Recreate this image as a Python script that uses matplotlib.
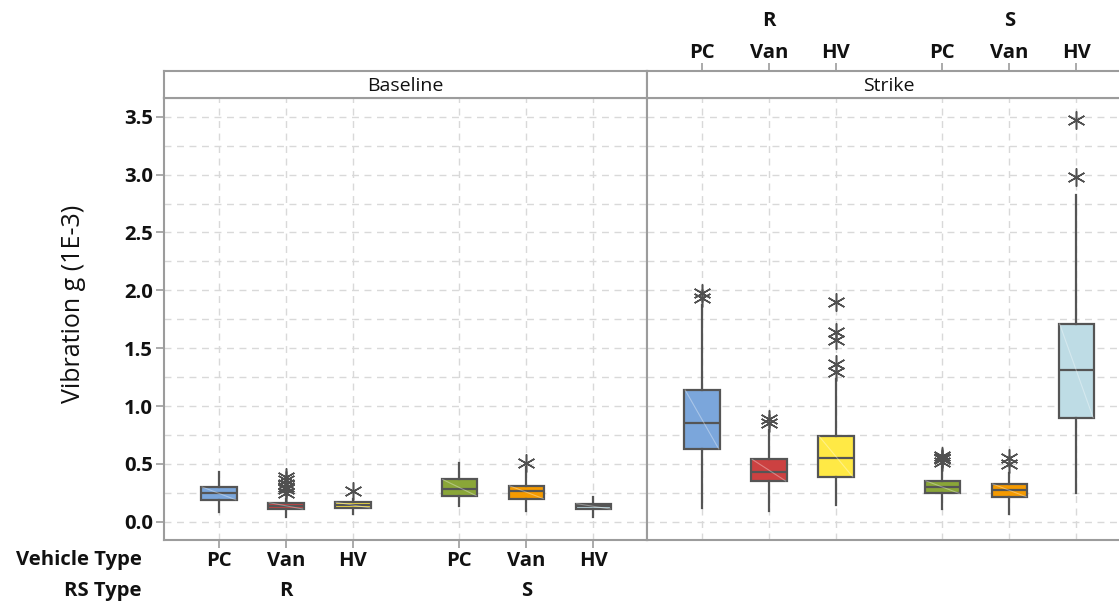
import matplotlib
matplotlib.use("Agg")
import matplotlib.pyplot as plt
from matplotlib.lines import Line2D
import matplotlib.transforms as mtransforms

plt.rcParams['font.family'] = ['Open Sans', 'DejaVu Sans']

# ---------------- data ----------------
vehicle_types = ["PC", "Van", "HV", "PC", "Van", "HV"]
rs_types = ["R", "S"]
panels = ["Baseline", "Strike"]
colors = ["#7BA6DB", "#CC4141", "#FFE945", "#8AA638", "#F59A00", "#BEDCE5"]

# Baseline: (whislo, q1, med, q3, whishi)
base_whislo = [0.08, 0.04, 0.07, 0.14, 0.09, 0.04]
base_q1 = [0.19, 0.11, 0.12, 0.225, 0.20, 0.11]
base_med = [0.25, 0.14, 0.145, 0.28, 0.265, 0.133]
base_q3 = [0.30, 0.165, 0.168, 0.365, 0.31, 0.156]
base_whishi = [0.43, 0.20, 0.20, 0.51, 0.475, 0.215]
base_fliers = [[], [0.25, 0.28, 0.30, 0.33, 0.36, 0.39], [0.265], [], [0.51], []]

# Strike
strike_whislo = [0.12, 0.095, 0.147, 0.11, 0.067, 0.25]
strike_q1 = [0.63, 0.352, 0.389, 0.245, 0.216, 0.899]
strike_med = [0.855, 0.432, 0.553, 0.297, 0.271, 1.311]
strike_q3 = [1.138, 0.539, 0.738, 0.354, 0.326, 1.709]
strike_whishi = [1.873, 0.793, 1.23, 0.475, 0.418, 2.82]
strike_fliers = [[1.93, 1.975], [0.85, 0.89], [1.29, 1.36, 1.57, 1.64, 1.895],
                 [0.52, 0.54, 0.555, 0.57], [0.50, 0.55], [2.98, 3.475]]

yticks = [0.0, 0.5, 1.0, 1.5, 2.0, 2.5, 3.0, 3.5]
ylabel = "Vibration g (1E-3)"

# ---------------- layout ----------------
W, H = 1119, 603
fig = plt.figure(figsize=(W / 100, H / 100), dpi=100)

positions = [0, 1, 2, 3.59, 4.59, 5.59]
xlim = (-0.82, 6.39)
ylim = (-0.158, 3.662)

frame_col = "#9C9C9C"
edge_col = "#555555"
grid_col = "#D9D9D9"
txt_col = "#111111"
tick_fs = 14.6
fw = 'bold'


def px_rect(x0, y_top, x1, y_bot):
    return [x0 / W, 1 - y_bot / H, (x1 - x0) / W, (y_bot - y_top) / H]


def draw_panel(ax, whislo, q1, med, q3, whishi, fliers):
    stats = []
    for i in range(len(med)):
        stats.append(dict(whislo=whislo[i], q1=q1[i], med=med[i], q3=q3[i],
                          whishi=whishi[i], fliers=fliers[i]))
    bp = ax.bxp(stats, positions=positions, widths=0.53, patch_artist=True,
                showcaps=False,
                boxprops=dict(edgecolor=edge_col, linewidth=1.6),
                medianprops=dict(color=edge_col, linewidth=1.6),
                whiskerprops=dict(color=edge_col, linewidth=1.6),
                flierprops=dict(marker=(6, 2, 0), markersize=13,
                                markeredgecolor="#505050", markeredgewidth=1.1,
                                linestyle='none'),
                zorder=3)
    for patch, c in zip(bp['boxes'], colors):
        patch.set_facecolor(c)
    # faint diagonal highlight inside boxes
    for p, lo, hi in zip(positions, q1, q3):
        ax.add_line(Line2D([p - 0.25, p + 0.25], [hi, lo], color="white",
                           alpha=0.35, linewidth=0.8, zorder=4))
    ax.set_xlim(*xlim)
    ax.set_ylim(*ylim)
    ax.set_yticks([v * 0.25 for v in range(15)], minor=True)
    ax.grid(True, which='both', axis='y', color=grid_col, linestyle=(0, (5, 4)), linewidth=1.0, zorder=0)
    ax.grid(True, which='major', axis='x', color=grid_col, linestyle=(0, (5, 4)), linewidth=1.0, zorder=0)
    ax.set_axisbelow(True)
    for s in ax.spines.values():
        s.set_color(frame_col)
        s.set_linewidth(1.5)
    ax.tick_params(which='minor', length=0)


# Baseline panel
ax1 = fig.add_axes(px_rect(164, 98, 647, 540))
draw_panel(ax1, base_whislo, base_q1, base_med, base_q3, base_whishi, base_fliers)
ax1.set_yticks(yticks)
ax1.set_yticklabels([f"{v:.1f}" for v in yticks], fontsize=tick_fs, fontweight=fw, color=txt_col)
ax1.tick_params(axis='y', which='major', length=6, width=1.2, color=frame_col, pad=2)
ax1.set_xticks(positions)
ax1.set_xticklabels(vehicle_types, fontsize=tick_fs, fontweight=fw, color=txt_col)
ax1.tick_params(axis='x', which='major', length=6, width=1.2, color=frame_col, pad=2)
ax1.set_ylabel(ylabel, fontsize=18, color=txt_col)
ax1.yaxis.set_label_coords(-0.162, 0.535)

# Strike panel (extends past the right edge like the reference)
ax2 = fig.add_axes(px_rect(647, 98, 1130, 540))
draw_panel(ax2, strike_whislo, strike_q1, strike_med, strike_q3, strike_whishi, strike_fliers)
ax2.set_yticks(yticks)
ax2.tick_params(axis='y', which='major', length=0, labelleft=False)
ax2.set_xticks(positions)
ax2.tick_params(axis='x', which='major', length=0, labelbottom=False)

# Strips
for x0, x1, name in [(164, 647, panels[0]), (647, 1130, panels[1])]:
    sax = fig.add_axes(px_rect(x0, 71, x1, 98))
    sax.set_xlim(*xlim)
    sax.set_ylim(0, 1)
    sax.set_yticks([])
    for s in sax.spines.values():
        s.set_color(frame_col)
        s.set_linewidth(1.5)
    sax.text(0.5, 0.45, name, transform=sax.transAxes, ha='center', va='center',
             fontsize=14, color=txt_col)
    if name == "Strike":
        sax.xaxis.set_ticks_position('top')
        sax.set_xticks(positions)
        sax.set_xticklabels(vehicle_types, fontsize=tick_fs, fontweight=fw, color=txt_col)
        sax.tick_params(axis='x', length=6, width=1.2, color=frame_col, pad=0)
        tr = mtransforms.blended_transform_factory(sax.transData, fig.transFigure)
        for gi, g in enumerate(rs_types):
            sax.text(positions[gi * 3 + 1], 1 - 21 / H, g, transform=tr, ha='center', va='center',
                     fontsize=tick_fs, fontweight=fw, color=txt_col)
    else:
        sax.set_xticks([])

# Bottom group labels
trb = mtransforms.blended_transform_factory(ax1.transData, fig.transFigure)
for gi, g in enumerate(rs_types):
    ax1.text(positions[gi * 3 + 1], 1 - 591 / H, g, transform=trb, ha='center', va='center',
             fontsize=tick_fs, fontweight=fw, color=txt_col, clip_on=False)
fig.text(142 / W, 1 - 560 / H, "Vehicle Type", ha='right', va='center',
         fontsize=tick_fs, fontweight=fw, color=txt_col)
fig.text(142 / W, 1 - 591 / H, "RS Type", ha='right', va='center',
         fontsize=tick_fs, fontweight=fw, color=txt_col)

fig.savefig("out.png", dpi=100)
